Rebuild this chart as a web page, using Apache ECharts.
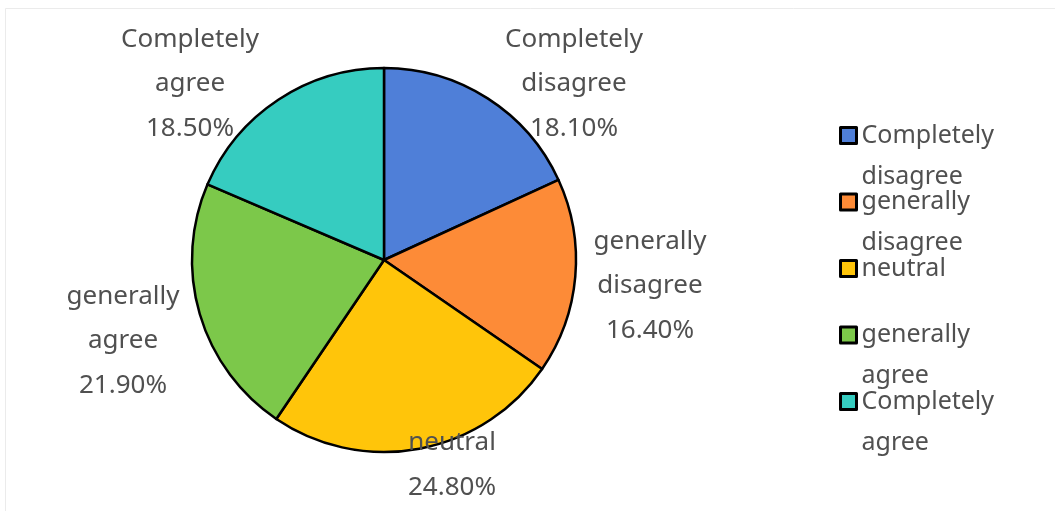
<!DOCTYPE html>
<html>
<head>
<meta charset="utf-8">
<script src="https://cdn.jsdelivr.net/npm/echarts@6/dist/echarts.min.js"></script>
<style>
html,body{margin:0;padding:0;background:#fff;}
#chart{width:1055px;height:511px;}
</style>
</head>
<body>
<div id="chart"></div>
<script>
// ---- data ----
var categories = ['Completely disagree', 'generally disagree', 'neutral', 'generally agree', 'Completely agree'];
var values = [18.1, 16.4, 24.8, 21.9, 18.5];
var colors = ['#4F7FD8', '#FD8B37', '#FFC50A', '#7CC84A', '#36CCC0'];

// ---- layout / style ----
var PIE_CX = 384, PIE_CY = 260, PIE_R = 192;
// label block centre offsets relative to the pie centre
var labelOffsets = [[190, -177], [266, 25], [68, 204], [-261, 80], [-194, -177]];
var LEGEND_LH = 41;

var chart = echarts.init(document.getElementById('chart'), null, {renderer: 'canvas'});

var option = {
  backgroundColor: '#ffffff',
  animation: false,
  color: colors,
  graphic: [{
    type: 'rect',
    silent: true,
    shape: {x: 5.5, y: 8.5, width: 1200, height: 700},
    style: {fill: 'none', stroke: '#ebebeb', lineWidth: 1}
  }],
  legend: {
    orient: 'vertical',
    left: 839,
    top: 74,
    height: 480,
    padding: 0,
    itemWidth: 16,
    itemHeight: 16,
    itemGap: 66.5 - 3 * LEGEND_LH,
    icon: 'rect',
    data: categories,
    itemStyle: {borderColor: '#000', borderWidth: 3},
    formatter: function (name) {
      var parts = name.split(' ');
      // blank first line keeps the icon level with the first word
      return ' \n' + parts[0] + '\n' + (parts[1] || ' ');
    },
    textStyle: {
      fontFamily: 'Noto Sans',
      fontSize: 25,
      color: '#505050',
      lineHeight: LEGEND_LH
    }
  },
  series: [{
    type: 'pie',
    center: [PIE_CX, PIE_CY],
    radius: PIE_R,
    startAngle: 90,
    clockwise: true,
    avoidLabelOverlap: false,
    itemStyle: {borderColor: '#000', borderWidth: 2.5},
    emphasis: {disabled: true},
    label: {
      show: true,
      position: 'outside',
      fontFamily: 'Noto Sans',
      fontSize: 26,
      lineHeight: 44.5,
      color: '#505050',
      align: 'center',
      formatter: function (p) {
        return p.name.replace(' ', '\n') + '\n' + p.value.toFixed(2) + '%';
      }
    },
    labelLine: {show: false},
    labelLayout: function (params) {
      var o = labelOffsets[params.dataIndex];
      return {x: PIE_CX + o[0], y: PIE_CY + o[1] + 1, align: 'center', verticalAlign: 'middle'};
    },
    data: categories.map(function (c, i) { return {name: c, value: values[i]}; })
  }]
};
chart.setOption(option);
</script>
</body>
</html>
